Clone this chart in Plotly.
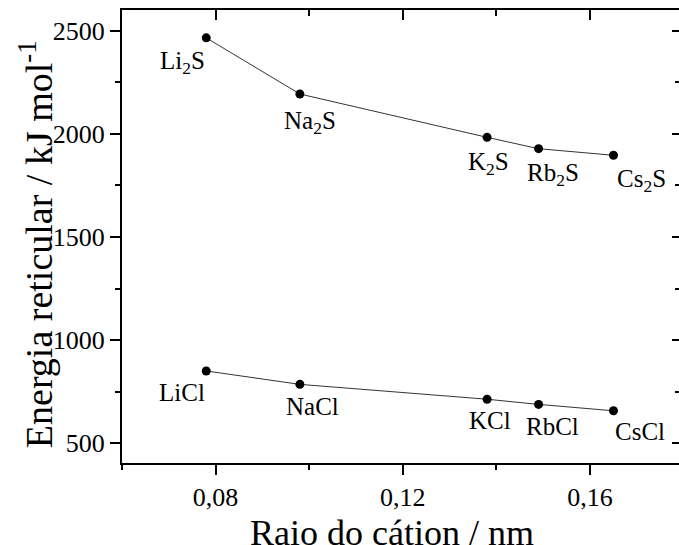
import plotly.graph_objects as go

# ---- data ----
cation_radius_nm = [0.078, 0.098, 0.138, 0.149, 0.165]
sulfide_energy = [2465, 2193, 1983, 1928, 1896]
chloride_energy = [851, 786, 714, 689, 658]
sulfide_labels = ["Li<sub>2</sub>S", "Na<sub>2</sub>S", "K<sub>2</sub>S", "Rb<sub>2</sub>S", "Cs<sub>2</sub>S"]
chloride_labels = ["LiCl", "NaCl", "KCl", "RbCl", "CsCl"]

x_title = "Raio do cátion / nm"
y_title = "Energia reticular / kJ mol<sup>-1</sup>"

# ---- style ----
FONT = "Times New Roman, Liberation Serif, DejaVu Serif, serif"
W, H = 679, 545
ML, MR, MT, MB = 122, 0, 10, 82
XR = [0.06, 0.1790]
YR = [405, 2600]

# label offsets (pixels) relative to each marker: left edge shift, downward shift
sulf_dx = [-48, -18, -21, -14, 2]
sulf_dy = [7, 11, 9, 8, 8]
chl_dx = [-49, -16, -20, -15, 0]
chl_dy = [6, 7, 6, 7, 5]

fig = go.Figure()
for yvals in (sulfide_energy, chloride_energy):
    fig.add_trace(go.Scatter(
        x=cation_radius_nm, y=yvals, mode="lines+markers",
        line=dict(color="#333333", width=1),
        marker=dict(color="black", size=9),
        showlegend=False, hoverinfo="skip"))

annotations = []
for xs, ys, labels, dxs, dys in (
        (cation_radius_nm, sulfide_energy, sulfide_labels, sulf_dx, sulf_dy),
        (cation_radius_nm, chloride_energy, chloride_labels, chl_dx, chl_dy)):
    for xv, yv, t, dx, dy in zip(xs, ys, labels, dxs, dys):
        annotations.append(dict(
            x=xv, y=yv, xref="x", yref="y", text=t, showarrow=False,
            xanchor="left", yanchor="top", xshift=dx, yshift=-dy,
            font=dict(family=FONT, size=25, color="black")))

annotations.append(dict(
    x=0.485, y=0, xref="paper", yref="paper", text=x_title, showarrow=False,
    xanchor="center", yanchor="middle", yshift=-70,
    font=dict(family=FONT, size=36, color="black")))
annotations.append(dict(
    x=0, y=0.483, xref="paper", yref="paper", text=y_title, showarrow=False,
    xanchor="center", yanchor="middle", xshift=-86, textangle=-90,
    font=dict(family=FONT, size=38, color="black")))

axis_font = dict(family=FONT, size=26, color="black")

fig.update_layout(
    width=W, height=H,
    margin=dict(l=ML, r=MR, t=MT, b=MB, pad=0),
    paper_bgcolor="white", plot_bgcolor="white",
    font=dict(family=FONT, color="black"),
    separators=", ",
    annotations=annotations,
    xaxis=dict(
        range=XR, domain=[0, 1], showgrid=False, zeroline=False,
        showline=True, linecolor="black", linewidth=2,
        ticks="outside", ticklen=10, tickwidth=1.5, tickcolor="black",
        tick0=0.08, dtick=0.04, tickformat=".2f", tickfont=axis_font,
        minor=dict(ticks="outside", ticklen=5, tickwidth=1.5, tickcolor="black",
                   tick0=0.06, dtick=0.02, showgrid=False),
    ),
    yaxis=dict(
        range=YR, domain=[0, 1], showgrid=False, zeroline=False,
        showline=True, linecolor="black", linewidth=2,
        ticks="outside", ticklen=10, tickwidth=1.5, tickcolor="black",
        tick0=500, dtick=500, tickfont=axis_font,
        minor=dict(ticks="outside", ticklen=5, tickwidth=1.5, tickcolor="black",
                   tick0=250, dtick=250, showgrid=False),
    ),
    xaxis2=dict(
        range=XR, overlaying="x", side="top", anchor="y", showgrid=False,
        zeroline=False, showline=True, linecolor="black", linewidth=2,
        ticks="inside", ticklen=10, tickwidth=1.5, tickcolor="black",
        tick0=0.08, dtick=0.04, showticklabels=False,
        minor=dict(ticks="inside", ticklen=6, tickwidth=1.5, tickcolor="black",
                   tick0=0.06, dtick=0.02, showgrid=False),
    ),
    yaxis2=dict(
        range=YR, overlaying="y", side="right", anchor="x", showgrid=False,
        zeroline=False, showline=False,
        ticks="inside", ticklen=7, tickwidth=1.5, tickcolor="black",
        tick0=500, dtick=500, showticklabels=False,
        minor=dict(ticks="inside", ticklen=4, tickwidth=1.5, tickcolor="black",
                   tick0=250, dtick=250, showgrid=False),
    ),
)

# invisible helper trace so the mirrored axes are rendered
fig.add_trace(go.Scatter(x=[XR[0]], y=[YR[0]], xaxis="x2", yaxis="y2",
                         mode="markers", marker=dict(opacity=0),
                         showlegend=False, hoverinfo="skip"))

fig.write_html("out.html")
